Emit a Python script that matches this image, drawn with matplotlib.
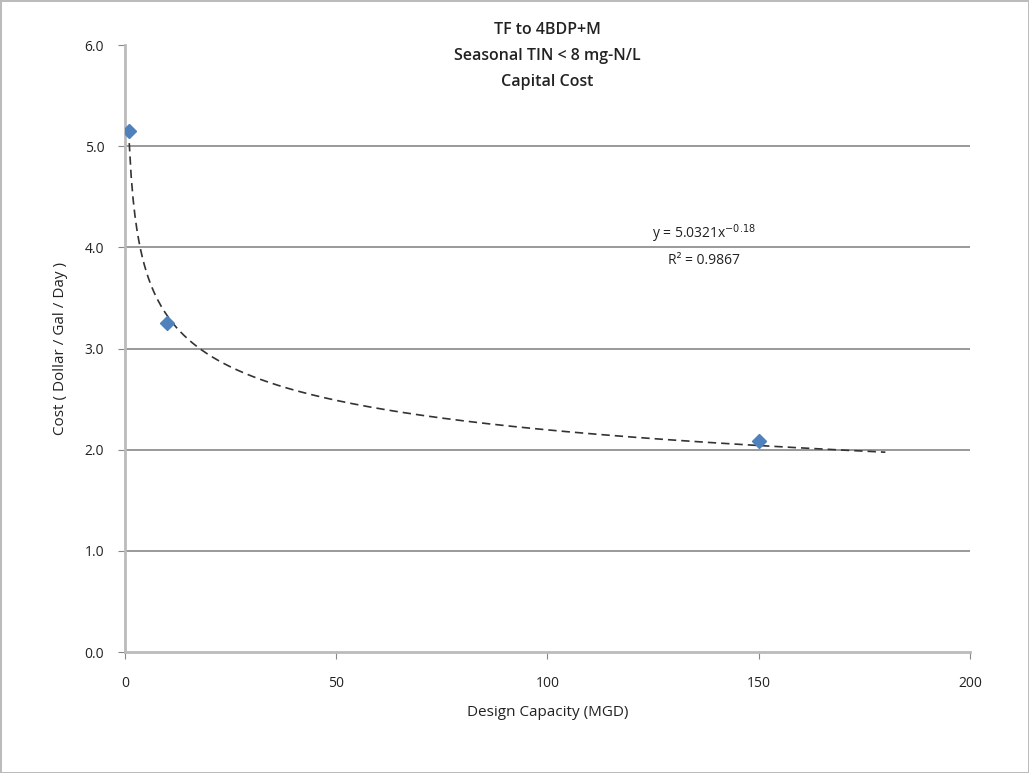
import numpy as np
import matplotlib
matplotlib.use("Agg")
import matplotlib.pyplot as plt

capacity = [1, 10, 150]
cost = [5.15, 3.25, 2.085]
fit_a = 5.0321
fit_b = -0.18
fit_range = [1, 180]
eq_text = "y = 5.0321x$^{-0.18}$"
r2_text = "R² = 0.9867"
title_lines = ["TF to 4BDP+M", "Seasonal TIN < 8 mg-N/L", "Capital Cost"]
x_ticks = [0, 50, 100, 150, 200]
y_ticks = [0.0, 1.0, 2.0, 3.0, 4.0, 5.0, 6.0]

plt.rcParams['font.family'] = ['Open Sans', 'DejaVu Sans']

fig = plt.figure(figsize=(10.29, 7.73), dpi=100)
fig.patch.set_edgecolor('#BBBBBB')
fig.patch.set_linewidth(2)
ax = fig.add_axes([0.1215, 0.1565, 0.821, 0.785])

xs = np.linspace(fit_range[0], fit_range[1], 400)
ax.plot(xs, fit_a * xs ** fit_b, color='#333333', lw=1.2, ls=(0, (5, 3)), zorder=3)
ax.plot(capacity, cost, ls='none', marker='D', ms=7, color='#4F81BD', zorder=4)

ax.set_xlim(0, 200)
ax.set_ylim(0, 6)
ax.set_xticks(x_ticks)
ax.set_xticklabels([str(t) for t in x_ticks])
ax.set_yticks(y_ticks)
ax.set_yticklabels([f"{t:.1f}" for t in y_ticks])
for y in y_ticks[1:-1]:
    ax.axhline(y, color='#888888', lw=1.2, zorder=1)
for s in ['top', 'right']:
    ax.spines[s].set_visible(False)
for s in ['left', 'bottom']:
    ax.spines[s].set_color('#BBBBBB')
    ax.spines[s].set_linewidth(2)
ax.tick_params(axis='both', colors='#888888', labelcolor='#222222', labelsize=10, length=5)
ax.tick_params(axis='x', pad=12)
ax.tick_params(axis='y', pad=10)

ax.set_xlabel("Design Capacity (MGD)", fontsize=11, labelpad=10, color='#222222')
ax.set_ylabel("Cost ( Dollar / Gal / Day )", fontsize=11, labelpad=12, color='#222222')

fig.text(0.532, 0.972, "\n".join(title_lines), ha='center', va='top', fontsize=11.5,
         fontweight='semibold', linespacing=1.85, color='#222222')
ax.text(137, 4.02, eq_text, ha='center', va='bottom', fontsize=10, color='#222222')
ax.text(137, 3.95, r2_text, ha='center', va='top', fontsize=10, color='#222222')

fig.savefig("out.png", dpi=100, edgecolor=fig.get_edgecolor())
